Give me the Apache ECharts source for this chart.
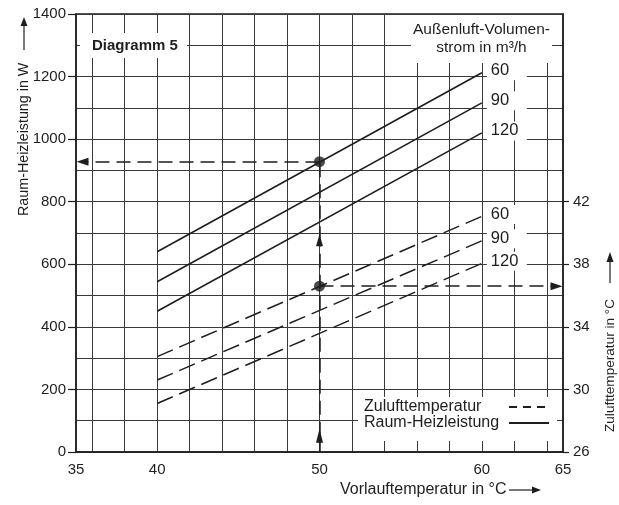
<!DOCTYPE html>
<html><head><meta charset="utf-8">
<script src="https://cdn.jsdelivr.net/npm/echarts@6/dist/echarts.min.js"></script>
<style>html,body{margin:0;padding:0;background:#fff}#c{width:619px;height:505px}</style>
</head><body><div id="c"></div>
<script>
// ---- data ----
const flowRates = ['60', '90', '120'];          // Außenluft-Volumenstrom in m³/h
const flowTemps = [40, 60];                      // Vorlauftemperatur in °C (line ends)
const heat60 = [640, 1212];                      // Raum-Heizleistung in W
const heat90 = [544, 1116];
const heat120 = [450, 1020];
const supply60 = [32.1, 41.06];                  // Zulufttemperatur in °C
const supply90 = [30.6, 39.5];
const supply120 = [29.1, 38.06];
const exampleFlowTemp = 50;
const exampleHeat = 928;
const exampleSupply = 36.6;
const xLabelValues = [35, 40, 50, 60, 65];
const xGridValues = [36, 38, 40, 42, 44, 46, 48, 50, 52, 54, 56, 58, 60, 62, 64];
const rightLabelValues = [26, 30, 34, 38, 42];

const FONT = '"Liberation Sans", Arial, sans-serif';
const INK = '#1e1e1e';
const GRIDC = '#3a3a3a';

function pts(ys) { return flowTemps.map((x, i) => [x, ys[i]]); }

const heatSets = [heat60, heat90, heat120];
const supplySets = [supply60, supply90, supply120];

const endLabelBase = {
  show: true, distance: 5, offset: [0, -2], fontSize: 16.5, color: INK, fontFamily: FONT,
  backgroundColor: '#fff', padding: [1, 6, 1, 4], width: 30, align: 'left'
};

const series = [];
heatSets.forEach((ys, i) => {
  series.push({
    name: 'Raum-Heizleistung', type: 'line', xAxisIndex: 0, yAxisIndex: 0,
    data: pts(ys), symbol: 'none', z: 3, silent: true,
    lineStyle: { color: INK, width: 1.6, type: 'solid' },
    itemStyle: { color: INK },
    endLabel: Object.assign({ formatter: () => flowRates[i] }, endLabelBase)
  });
});
supplySets.forEach((ys, i) => {
  series.push({
    name: 'Zulufttemperatur', type: 'line', xAxisIndex: 0, yAxisIndex: 2,
    data: pts(ys), symbol: 'none', z: 3, silent: true,
    lineStyle: { color: INK, width: 1.5, type: [17, 7] },
    itemStyle: { color: INK },
    endLabel: Object.assign({ formatter: () => flowRates[i] }, endLabelBase)
  });
});

const refLine = { color: INK, width: 1.5, type: [14, 7] };
const arrow = (c, size) => ({ coord: c, symbol: 'triangle', symbolSize: size || [8, 12] });
const plain = (c) => ({ coord: c, symbol: 'none' });

series.push({
  name: 'BeispielW', type: 'scatter', xAxisIndex: 0, yAxisIndex: 0, z: 5,
  data: [[exampleFlowTemp, exampleHeat]], symbolSize: 11, itemStyle: { color: INK }, silent: true,
  markLine: {
    silent: true, animation: false, label: { show: false }, lineStyle: refLine,
    data: [
      [plain([exampleFlowTemp, exampleHeat]), arrow([35.4, exampleHeat])],
      [plain([exampleFlowTemp, 0]), arrow([exampleFlowTemp, 52], [7, 14])],
      [plain([exampleFlowTemp, 52]), arrow([exampleFlowTemp, 677], [7, 12])],
      [plain([exampleFlowTemp, 677]), plain([exampleFlowTemp, exampleHeat])]
    ]
  }
});
series.push({
  name: 'BeispielT', type: 'scatter', xAxisIndex: 0, yAxisIndex: 2, z: 5,
  data: [[exampleFlowTemp, exampleSupply]], symbolSize: 11, itemStyle: { color: INK }, silent: true,
  markLine: {
    silent: true, animation: false, label: { show: false }, lineStyle: refLine,
    data: [
      [plain([exampleFlowTemp, exampleSupply]), arrow([64.6, exampleSupply])]
    ]
  }
});

const axisLabelStyle = { fontSize: 15, color: INK, fontFamily: FONT };

const option = {
  animation: false,
  textStyle: { fontFamily: FONT },
  grid: { left: 76, right: 56, top: 14, bottom: 53, show: true, borderColor: INK, borderWidth: 1.5, backgroundColor: 'transparent' },
  xAxis: [
    {
      type: 'value', min: 35, max: 65, interval: 5,
      axisLine: { show: true, onZero: false, lineStyle: { color: INK, width: 1.5 } },
      axisTick: { show: false },
      splitLine: { show: false },
      axisLabel: Object.assign({ margin: 10, customValues: xLabelValues, formatter: v => xLabelValues.includes(v) ? String(v) : '' }, axisLabelStyle)
    },
    {
      type: 'value', min: 35, max: 65, interval: 1, position: 'bottom',
      axisLine: { show: false }, axisLabel: { show: false },
      axisTick: { show: false, customValues: xGridValues },
      splitLine: { show: true, lineStyle: { color: GRIDC, width: 1 } }
    }
  ],
  yAxis: [
    {
      type: 'value', min: 0, max: 1400, interval: 200, position: 'left',
      axisLine: { show: true, onZero: false, lineStyle: { color: INK, width: 1.5 } },
      axisTick: { show: true, length: 8, lineStyle: { color: INK, width: 1.2 } },
      splitLine: { show: false },
      axisLabel: Object.assign({ margin: 10, formatter: v => String(v) }, axisLabelStyle)
    },
    {
      type: 'value', min: 0, max: 1400, interval: 100, position: 'left',
      axisLine: { show: false }, axisTick: { show: false }, axisLabel: { show: false },
      splitLine: { show: true, lineStyle: { color: GRIDC, width: 1 } }
    },
    {
      type: 'value', min: 26, max: 54, interval: 4, position: 'right',
      axisLine: { show: true, onZero: false, lineStyle: { color: INK, width: 1.5 } },
      axisTick: { show: true, length: 6, customValues: rightLabelValues, lineStyle: { color: INK, width: 1.2 } },
      splitLine: { show: false },
      axisLabel: Object.assign({ margin: 10, customValues: rightLabelValues, formatter: v => rightLabelValues.includes(v) ? String(v) : '' }, axisLabelStyle)
    }
  ],
  legend: {
    data: [
      { name: 'Zulufttemperatur', lineStyle: { type: [8, 6] } },
      { name: 'Raum-Heizleistung' }
    ],
    orient: 'vertical', left: 358, top: 397, align: 'right',
    backgroundColor: '#fff', padding: [2, 7, 10, 6], itemGap: 0,
    itemWidth: 40, itemHeight: 18, selectedMode: false,
    itemStyle: { opacity: 0, color: 'transparent', borderWidth: 0 },
    textStyle: { fontSize: 16, color: INK, fontFamily: FONT, rich: { n: { width: 140, align: 'left', fontSize: 16, color: INK, fontFamily: FONT } } },
    formatter: n => '{n|' + n + '}'
  },
  graphic: [
    {
      type: 'text', x: 80, y: 45.5, z: 20,
      style: { text: 'Diagramm 5', fontSize: 15, fontWeight: 'bold', fontFamily: FONT, fill: INK,
               align: 'left', verticalAlign: 'middle', backgroundColor: '#fff', padding: [5, 9, 5, 12] }
    },
    {
      type: 'text', x: 481.5, y: 15, z: 20,
      style: { text: 'Außenluft-Volumen-\nstrom in m³/h', fontSize: 15.5, lineHeight: 18, fontFamily: FONT, fill: INK,
               align: 'center', verticalAlign: 'top', backgroundColor: '#fff', padding: [6, 2, 6, 2] }
    },
    {
      type: 'group', x: 24, y: 216, rotation: Math.PI / 2, z: 20,
      children: [
        { type: 'text', x: 0, y: 0, style: { text: 'Raum-Heizleistung in W', fontSize: 14.3, fontFamily: FONT, fill: INK, align: 'left', verticalAlign: 'middle' } },
        { type: 'line', shape: { x1: 166, y1: 0, x2: 192, y2: 0 }, style: { stroke: INK, lineWidth: 1.2 } },
        { type: 'polygon', shape: { points: [[190, -3.5], [199, 0], [190, 3.5]] }, style: { fill: INK } }
      ]
    },
    {
      type: 'group', x: 610, y: 432, rotation: Math.PI / 2, z: 20,
      children: [
        { type: 'text', x: 0, y: 0, style: { text: 'Zulufttemperatur in °C', fontSize: 13.6, fontFamily: FONT, fill: INK, align: 'left', verticalAlign: 'middle' } },
        { type: 'line', shape: { x1: 149, y1: 0, x2: 172, y2: 0 }, style: { stroke: INK, lineWidth: 1.2 } },
        { type: 'polygon', shape: { points: [[170, -3.5], [180, 0], [170, 3.5]] }, style: { fill: INK } }
      ]
    },
    {
      type: 'group', x: 340, y: 490, z: 20,
      children: [
        { type: 'text', x: 0, y: 0, style: { text: 'Vorlauftemperatur in °C', fontSize: 16, fontFamily: FONT, fill: INK, align: 'left', verticalAlign: 'middle' } },
        { type: 'line', shape: { x1: 169, y1: 0, x2: 194, y2: 0 }, style: { stroke: INK, lineWidth: 1.2 } },
        { type: 'polygon', shape: { points: [[192, -3.5], [201, 0], [192, 3.5]] }, style: { fill: INK } }
      ]
    }
  ],
  series: series
};

const chart = echarts.init(document.getElementById('c'), null, { renderer: 'canvas' });
chart.setOption(option);
</script>
</body></html>
